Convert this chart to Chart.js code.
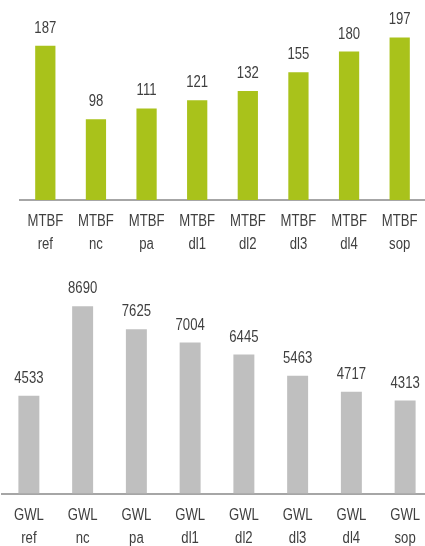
<!DOCTYPE html>
<html>
<head>
<meta charset="utf-8">
<script src="https://cdn.jsdelivr.net/npm/chart.js@4/dist/chart.umd.min.js"></script>
<style>
  html, body { margin:0; padding:0; background:#fff; width:425px; height:546px; overflow:hidden; position:relative; }
  canvas { position:absolute; left:0; }
  #c1 { top:0; }
  #c2 { top:270px; }
</style>
</head>
<body>
<canvas id="c1" width="425" height="265"></canvas>
<canvas id="c2" width="432" height="276"></canvas>
<script>
const suffixes = ["ref", "nc", "pa", "dl1", "dl2", "dl3", "dl4", "sop"];
const mtbfValues = [187, 98, 111, 121, 132, 155, 180, 197];
const gwlValues = [4533, 8690, 7625, 7004, 6445, 5463, 4717, 4313];
const mtbfLabels = suffixes.map(s => ["MTBF", s]);
const gwlLabels = suffixes.map(s => ["GWL", s]);

const FONT = "'Liberation Sans', Arial, sans-serif";
const TXT = '#3f3f3f';
const NARROW = 0.82;

function narrowText(ctx, text, x, y) {
  ctx.save();
  ctx.translate(x, y);
  ctx.scale(NARROW, 1);
  ctx.fillText(text, 0, 0);
  ctx.restore();
}

const narrowLabels = {
  id: 'narrowLabels',
  afterDraw(chart) {
    const ctx = chart.ctx;
    ctx.save();
    ctx.fillStyle = TXT;
    ctx.font = "16px " + FONT;
    ctx.textAlign = 'center';
    ctx.textBaseline = 'alphabetic';
    // value labels above bars
    const meta = chart.getDatasetMeta(0);
    const data = chart.data.datasets[0].data;
    meta.data.forEach((bar, i) => {
      narrowText(ctx, String(data[i]), bar.x, bar.y - 13);
    });
    // category labels under the axis
    const xs = chart.scales.x;
    const axisY = xs.top;
    chart.data.labels.forEach((lab, i) => {
      const x = xs.getPixelForTick(i);
      narrowText(ctx, lab[0], x, axisY + 26);
      narrowText(ctx, lab[1], x, axisY + 49);
    });
    ctx.restore();
  }
};

function makeChart(id, labels, values, color, yMax, padding, axisHeight, barPct) {
  return new Chart(document.getElementById(id), {
    type: 'bar',
    data: { labels: labels, datasets: [{ data: values, backgroundColor: color, borderWidth: 0 }] },
    options: {
      responsive: false,
      animation: false,
      devicePixelRatio: 1,
      layout: { padding: padding },
      plugins: { legend: { display: false }, tooltip: { enabled: false } },
      datasets: { bar: { categoryPercentage: 1, barPercentage: barPct } },
      scales: {
        x: {
          grid: { display: false, drawTicks: false },
          border: { display: true, color: '#A6A6A6', width: 2 },
          ticks: { display: false },
          afterFit(scale) { scale.height = axisHeight; }
        },
        y: { display: false, min: 0, max: yMax }
      }
    },
    plugins: [narrowLabels]
  });
}

makeChart('c1', mtbfLabels, mtbfValues, '#A9C21B', 240, { left: 20, right: 0, top: 2, bottom: 0 }, 65, 0.4);
makeChart('c2', gwlLabels, gwlValues, '#BFBFBF', 10000, { left: 2, right: 0, top: 8, bottom: 0 }, 52.5, 0.39);
</script>
</body>
</html>
